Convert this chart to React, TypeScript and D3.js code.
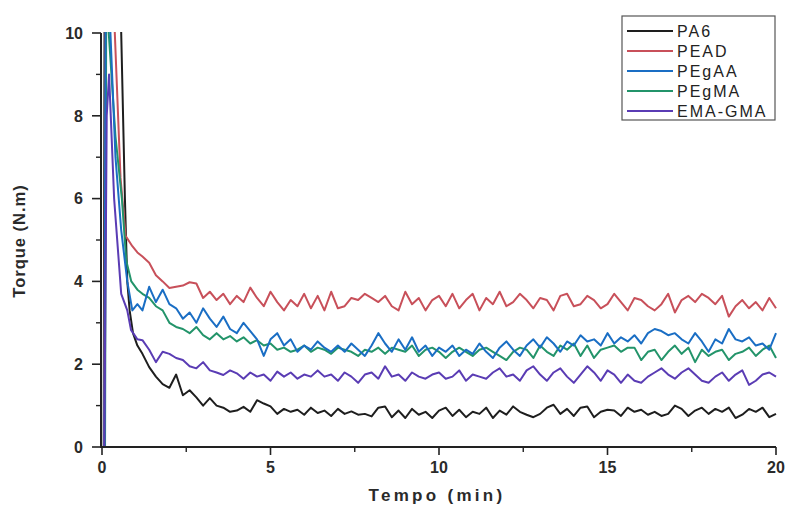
import React from "react";
import * as d3 from "d3";

const SERIES_NAMES = ["PA6", "PEAD", "PEgAA", "PEgMA", "EMA-GMA"];
const COLORS = ["#1e1e1e", "#c8505a", "#1a6ec4", "#23946a", "#5a3cb4"];

// start-up transient (time in min, torque in N.m)
const HEAD_T = [
  [0.05, 0.09, 0.45, 0.57, 0.68, 0.75, 0.82, 0.92, 1.05],
  [0.06, 0.12, 0.3, 0.38, 0.55, 0.7, 0.9, 1.05],
  [0.07, 0.11, 0.25, 0.4, 0.57, 0.75, 0.9, 1.05],
  [0.09, 0.13, 0.2, 0.4, 0.59, 0.72, 0.87, 1.05],
  [0.07, 0.14, 0.21, 0.36, 0.57, 0.75, 0.86, 1.05],
];
const HEAD_V = [
  [0, 16, 14, 10, 6.0, 4.0, 3.3, 2.75, 2.45],
  [0, 14, 13, 10, 6.5, 5.1, 4.85, 4.7],
  [0, 12, 10, 7, 5.24, 4.0, 3.3, 3.45],
  [0, 12, 10, 7.5, 6.0, 4.5, 4.0, 3.8],
  [0, 8, 9.0, 6.0, 3.7, 3.3, 2.83, 2.6],
];

// steady part, sampled every 0.2 min from 1.2 min to 20 min
const TAIL_START = 1.2;
const TAIL_STEP = 0.2;
const PA6 = [2.25, 1.93, 1.7, 1.52, 1.43, 1.75, 1.25, 1.37, 1.2, 1.0, 1.18, 1.0, 0.95, 0.85, 0.88, 0.97, 0.85, 1.13, 1.05, 0.98,
  0.8, 0.92, 0.85, 0.9, 0.78, 0.95, 0.82, 0.88, 0.75, 0.92, 0.8, 0.86, 0.78, 0.8, 0.74, 0.95, 0.98, 0.72, 0.88, 0.7,
  0.92, 0.78, 0.85, 0.7, 0.88, 0.95, 0.75, 0.9, 0.72, 0.85, 0.8, 0.95, 0.7, 0.88, 0.78, 0.98, 0.85, 0.78, 0.72, 0.8,
  0.95, 1.02, 0.8, 0.92, 0.75, 0.95, 0.98, 0.72, 0.85, 0.9, 0.88, 0.75, 0.95, 0.85, 0.9, 0.78, 0.85, 0.75, 0.8, 1.0,
  0.92, 0.75, 0.88, 0.95, 0.8, 0.92, 0.85, 0.95, 0.7, 0.78, 0.92, 0.85, 0.95, 0.72, 0.8];
const PEAD = [4.6, 4.45, 4.15, 4.0, 3.84, 3.87, 3.9, 3.98, 3.95, 3.6, 3.75, 3.55, 3.7, 3.45, 3.65, 3.5, 3.85, 3.6, 3.4, 3.75,
  3.5, 3.3, 3.55, 3.4, 3.7, 3.35, 3.65, 3.3, 3.75, 3.35, 3.4, 3.6, 3.55, 3.7, 3.6, 3.5, 3.65, 3.4, 3.3, 3.75,
  3.45, 3.6, 3.3, 3.55, 3.65, 3.4, 3.7, 3.35, 3.55, 3.7, 3.3, 3.6, 3.45, 3.75, 3.4, 3.5, 3.7, 3.55, 3.35, 3.6,
  3.55, 3.3, 3.65, 3.7, 3.4, 3.45, 3.65, 3.55, 3.35, 3.45, 3.7, 3.5, 3.3, 3.6, 3.55, 3.4, 3.3, 3.45, 3.7, 3.25,
  3.55, 3.65, 3.5, 3.7, 3.6, 3.45, 3.65, 3.15, 3.4, 3.55, 3.35, 3.5, 3.3, 3.6, 3.35];
const PEGAA = [3.3, 3.87, 3.5, 3.8, 3.45, 3.35, 3.1, 3.25, 3.0, 3.35, 3.1, 2.9, 3.15, 2.85, 2.75, 3.0, 2.8, 2.6, 2.2, 2.6,
  2.75, 2.45, 2.6, 2.3, 2.45, 2.35, 2.55, 2.4, 2.3, 2.45, 2.3, 2.5, 2.35, 2.2, 2.45, 2.75, 2.5, 2.3, 2.6, 2.35,
  2.65, 2.3, 2.45, 2.2, 2.4, 2.3, 2.45, 2.2, 2.35, 2.25, 2.5, 2.3, 2.15, 2.4, 2.55, 2.35, 2.2, 2.45, 2.6, 2.4,
  2.65, 2.5, 2.3, 2.55, 2.45, 2.7, 2.55, 2.6, 2.45, 2.75, 2.5, 2.65, 2.55, 2.7, 2.5, 2.75, 2.85, 2.8, 2.7, 2.75,
  2.6, 2.5, 2.75, 2.55, 2.3, 2.6, 2.5, 2.85, 2.6, 2.55, 2.65, 2.45, 2.5, 2.35, 2.75];
const PEGMA = [3.7, 3.6, 3.4, 3.3, 3.0, 2.9, 2.85, 2.75, 2.9, 2.7, 2.6, 2.75, 2.6, 2.68, 2.55, 2.65, 2.5, 2.58, 2.45, 2.5,
  2.35, 2.4, 2.3, 2.35, 2.45, 2.3, 2.4, 2.35, 2.25, 2.4, 2.35, 2.3, 2.2, 2.35, 2.3, 2.4, 2.25, 2.4, 2.35, 2.3,
  2.45, 2.2, 2.35, 2.4, 2.3, 2.15, 2.3, 2.4, 2.3, 2.2, 2.35, 2.4, 2.3, 2.2, 2.1, 2.3, 2.4, 2.35, 2.15, 2.45,
  2.3, 2.2, 2.45, 2.35, 2.5, 2.2, 2.45, 2.15, 2.35, 2.4, 2.45, 2.3, 2.4, 2.4, 2.1, 2.3, 2.35, 2.1, 2.3, 2.45,
  2.25, 2.4, 2.05, 2.35, 2.2, 2.3, 2.35, 2.1, 2.25, 2.3, 2.4, 2.2, 2.35, 2.45, 2.15];
const EMAGMA = [2.58, 2.35, 2.05, 2.3, 2.25, 2.15, 2.1, 1.95, 1.9, 2.05, 1.85, 1.8, 1.74, 1.85, 1.78, 1.65, 1.8, 1.7, 1.75, 1.6,
  1.82, 1.7, 1.8, 1.65, 1.75, 1.7, 1.85, 1.7, 1.75, 1.6, 1.8, 1.7, 1.55, 1.75, 1.8, 1.65, 1.95, 1.7, 1.75, 1.6,
  1.8, 1.7, 1.65, 1.75, 1.8, 1.65, 1.7, 1.85, 1.6, 1.75, 1.7, 1.65, 1.8, 1.9, 1.7, 1.75, 1.6, 1.85, 1.95, 1.75,
  1.6, 1.8, 1.9, 1.7, 1.55, 1.75, 1.95, 1.8, 1.6, 1.85, 1.75, 1.55, 1.75, 1.6, 1.55, 1.7, 1.8, 1.9, 1.75, 1.65,
  1.8, 1.9, 1.75, 1.6, 1.55, 1.7, 1.8, 1.6, 1.75, 1.85, 1.5, 1.6, 1.75, 1.8, 1.7];
const TAILS = [PA6, PEAD, PEGAA, PEGMA, EMAGMA];

const X_TICKS = [0, 5, 10, 15, 20];
const X_MINOR = [2.5, 7.5, 12.5, 17.5];
const Y_TICKS = [0, 2, 4, 6, 8, 10];
const Y_MINOR = [1, 3, 5, 7, 9];

const W = 786;
const H = 506;
const FONT = "Liberation Sans, Arial, sans-serif";

export default function App() {
  const x = d3.scaleLinear().domain([0, 20]).range([102, 776]);
  const y = d3.scaleLinear().domain([0, 10]).range([447, 33]);
  const line = d3
    .line<[number, number]>()
    .x((d) => x(d[0]))
    .y((d) => y(d[1]));

  const data: [number, number][][] = SERIES_NAMES.map((_, i) => {
    const pts: [number, number][] = HEAD_T[i].map((t, j) => [t, HEAD_V[i][j]]);
    TAILS[i].forEach((v, k) => pts.push([TAIL_START + TAIL_STEP * k, v]));
    return pts;
  });

  const axisX0 = 101;
  const axisY0 = 447;
  const drawOrder = [0, 1, 3, 2, 4];

  return (
    <svg width={W} height={H} style={{ position: "absolute", left: 0, top: 0, background: "#fff" }}>
      <defs>
        <clipPath id="plot">
          <rect x={axisX0} y={y(10) - 1} width={x(20) - axisX0 + 2} height={axisY0 - y(10) + 1} />
        </clipPath>
      </defs>
      <rect width={W} height={H} fill="#fff" />
      <g clipPath="url(#plot)">
        {drawOrder.map((i) => (
          <path key={i} d={line(data[i]) || ""} fill="none" stroke={COLORS[i]} strokeWidth={2} strokeLinejoin="round" />
        ))}
      </g>
      {/* axes */}
      <line x1={axisX0} x2={axisX0} y1={y(10)} y2={axisY0 + 1} stroke="#222" strokeWidth={2} />
      <line x1={axisX0 - 1} x2={x(20)} y1={axisY0} y2={axisY0} stroke="#222" strokeWidth={2} />
      {Y_TICKS.map((t) => (
        <g key={"y" + t}>
          <line x1={axisX0 - 9} x2={axisX0} y1={y(t)} y2={y(t)} stroke="#222" strokeWidth={1.6} />
          <text x={83} y={y(t)} dy="0.36em" textAnchor="end" fontFamily={FONT} fontSize={16} fontWeight="bold" fill="#2a2a2a">
            {t}
          </text>
        </g>
      ))}
      {Y_MINOR.map((t) => (
        <line key={"ym" + t} x1={axisX0 - 5} x2={axisX0} y1={y(t)} y2={y(t)} stroke="#222" strokeWidth={1.4} />
      ))}
      {X_TICKS.map((t) => (
        <g key={"x" + t}>
          <line x1={x(t)} x2={x(t)} y1={axisY0} y2={axisY0 + 8} stroke="#222" strokeWidth={1.6} />
          <text x={x(t)} y={467} dy="0.36em" textAnchor="middle" fontFamily={FONT} fontSize={16} fontWeight="bold" fill="#2a2a2a">
            {t}
          </text>
        </g>
      ))}
      {X_MINOR.map((t) => (
        <line key={"xm" + t} x1={x(t)} x2={x(t)} y1={axisY0} y2={axisY0 + 5} stroke="#222" strokeWidth={1.4} />
      ))}
      <text x={437} y={495} dy="0.36em" textAnchor="middle" fontFamily={FONT} fontSize={17} fontWeight="bold" letterSpacing={3.3} fill="#2a2a2a">
        Tempo (min)
      </text>
      <text
        transform={`translate(19,241) rotate(-90)`}
        dy="0.36em"
        textAnchor="middle"
        fontFamily={FONT}
        fontSize={16.5}
        fontWeight="bold"
        letterSpacing={1}
        fill="#2a2a2a"
      >
        Torque (N.m)
      </text>
      {/* legend */}
      <rect x={622} y={16} width={153} height={104} fill="#fff" stroke="#555" strokeWidth={1.2} />
      {SERIES_NAMES.map((n, i) => {
        const ly = 31 + i * 20;
        return (
          <g key={n}>
            <line x1={627} x2={673} y1={ly} y2={ly} stroke={COLORS[i]} strokeWidth={1.8} />
            <text x={677} y={ly} dy="0.36em" fontFamily={FONT} fontSize={16} letterSpacing={2} fill="#222">
              {n}
            </text>
          </g>
        );
      })}
    </svg>
  );
}
